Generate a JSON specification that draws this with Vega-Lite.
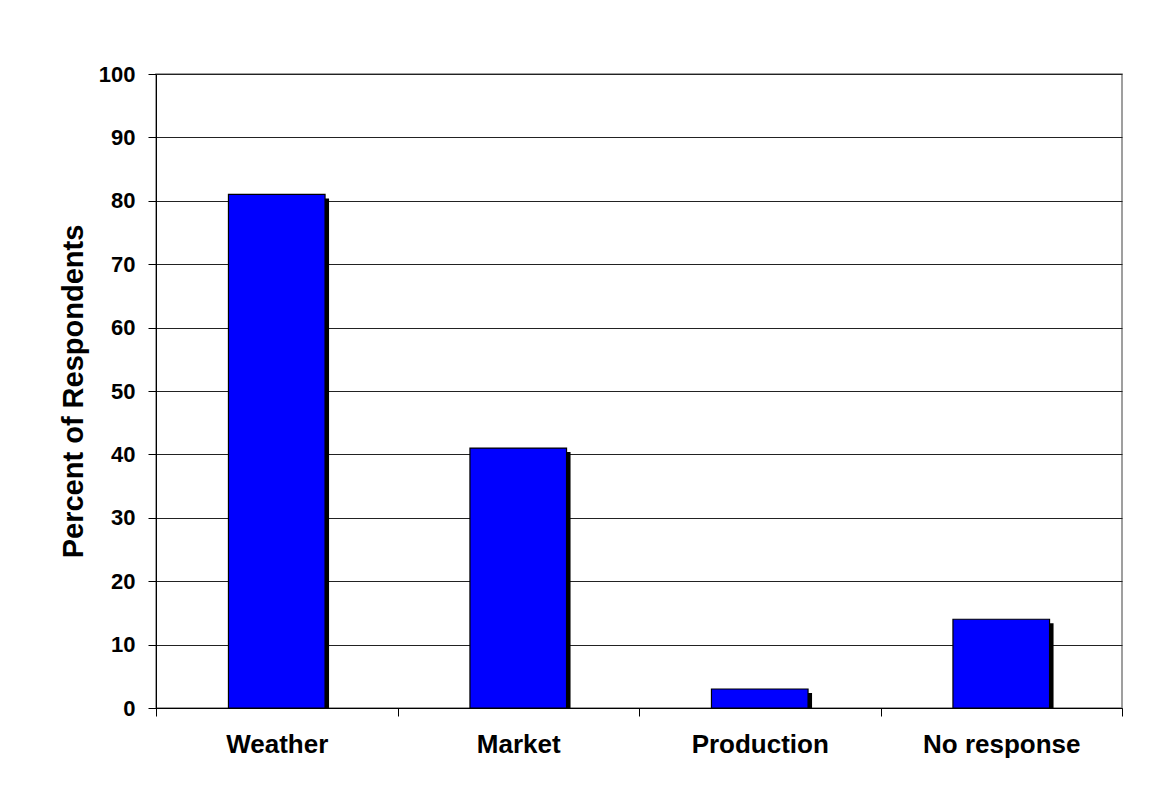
{
  "$schema": "https://vega.github.io/schema/vega-lite/v6.json",
  "width": 966,
  "height": 634,
  "autosize": {"type": "none"},
  "padding": {"left": 156, "top": 74, "right": 32, "bottom": 100},
  "background": "white",
  "config": {
    "font": "Liberation Sans",
    "view": {"stroke": "#808080", "strokeWidth": 1.5}
  },
  "data": {
    "values": [
      {"reason": "Weather", "percent": 81},
      {"reason": "Market", "percent": 41},
      {"reason": "Production", "percent": 3},
      {"reason": "No response", "percent": 14}
    ]
  },
  "encoding": {
    "x": {
      "field": "reason",
      "type": "nominal",
      "sort": null,
      "scale": {"paddingInner": 0, "paddingOuter": 0},
      "axis": {
        "title": null,
        "labelAngle": 0,
        "labelFont": "Liberation Sans",
        "labelFontSize": 26,
        "labelFontWeight": "bold",
        "labelColor": "black",
        "labelPadding": 15,
        "tickBand": "extent",
        "tickSize": 8,
        "tickColor": "black",
        "domainColor": "black",
        "grid": false
      }
    },
    "y": {
      "field": "percent",
      "type": "quantitative",
      "scale": {"domain": [0, 100], "nice": false},
      "axis": {
        "title": "Percent of Respondents",
        "titleFont": "Liberation Sans",
        "titleFontSize": 29,
        "titleFontWeight": "bold",
        "titleColor": "black",
        "titlePadding": 10,
        "values": [0, 10, 20, 30, 40, 50, 60, 70, 80, 90, 100],
        "labelFont": "Liberation Sans",
        "labelFontSize": 22,
        "labelFontWeight": "bold",
        "labelColor": "black",
        "labelPadding": 13,
        "tickSize": 8,
        "tickColor": "black",
        "domainColor": "black",
        "gridColor": "#222222",
        "gridOpacity": 1
      }
    }
  },
  "layer": [
    {
      "mark": {"type": "bar", "color": "black", "width": {"band": 0.4}, "xOffset": 4, "yOffset": 4, "clip": true}
    },
    {
      "mark": {"type": "bar", "fill": "#0000FF", "stroke": "black", "strokeWidth": 1.2, "width": {"band": 0.4}}
    }
  ]
}
